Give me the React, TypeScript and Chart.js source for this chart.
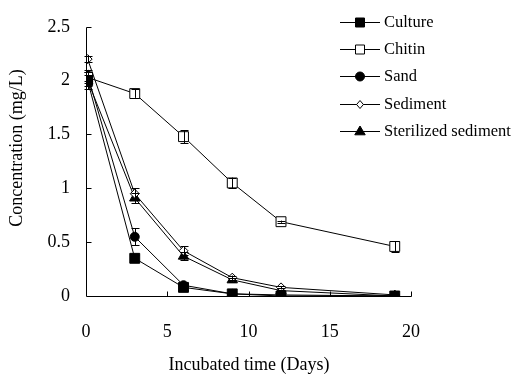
import React, { useEffect, useRef } from "react";
import { Chart, registerables } from "chart.js";

Chart.register(...registerables);

const days = [0.1, 3, 6, 9, 12, 19];
const seriesNames = ["Culture", "Chitin", "Sand", "Sediment", "Sterilized sediment"];
const culture = [2.0, 0.35, 0.08, 0.02, 0.0, 0.0];
const chitin = [2.03, 1.88, 1.48, 1.05, 0.69, 0.46];
const sand = [2.05, 0.55, 0.1, 0.02, 0.01, 0.0];
const sediment = [2.2, 0.95, 0.42, 0.17, 0.08, 0.01];
const sterilized = [2.0, 0.91, 0.37, 0.15, 0.05, 0.0];
const cultureErr = [0.05, 0.03, 0.02, 0.01, 0, 0];
const chitinErr = [0.05, 0.04, 0.06, 0.05, 0.01, 0.05];
const sandErr = [0.05, 0.08, 0.02, 0.01, 0, 0];
const sedimentErr = [0.03, 0.05, 0.04, 0.02, 0.01, 0];
const sterilizedErr = [0.08, 0.05, 0.04, 0.02, 0.01, 0];
const xTicks = [0, 5, 10, 15, 20];
const yTicks = [0, 0.5, 1, 1.5, 2, 2.5];
const xTitle = "Incubated time (Days)";
const yTitle = "Concentration (mg/L)";

const FONT = "'Liberation Serif', 'Times New Roman', serif";

const styles = [
  { pointStyle: "rect", fill: "#000", radius: 7, legend: 4.5 },
  { pointStyle: "rect", fill: "#fff", radius: 7, legend: 4.5 },
  { pointStyle: "circle", fill: "#000", radius: 4.5, legend: 4.5 },
  { pointStyle: "rectRot", fill: "#fff", radius: 4.5, legend: 4 },
  { pointStyle: "triangle", fill: "#000", radius: 6, legend: 5.5 },
];

const values = [culture, chitin, sand, sediment, sterilized];
const errors = [cultureErr, chitinErr, sandErr, sedimentErr, sterilizedErr];

function drawMarker(ctx: CanvasRenderingContext2D, style: string, r: number, x: number, y: number) {
  ctx.beginPath();
  if (style === "rect") {
    ctx.rect(x - r, y - r, 2 * r, 2 * r);
  } else if (style === "circle") {
    ctx.arc(x, y, r, 0, Math.PI * 2);
  } else if (style === "rectRot") {
    ctx.moveTo(x, y - r);
    ctx.lineTo(x + r * 0.85, y);
    ctx.lineTo(x, y + r);
    ctx.lineTo(x - r * 0.85, y);
    ctx.closePath();
  } else if (style === "triangle") {
    ctx.moveTo(x, y - r);
    ctx.lineTo(x + r * 0.95, y + r * 0.6);
    ctx.lineTo(x - r * 0.95, y + r * 0.6);
    ctx.closePath();
  }
  ctx.fill();
  ctx.stroke();
}

const errorBarPlugin = {
  id: "errorBars",
  afterDatasetsDraw(chart: any) {
    const { ctx } = chart;
    const xs = chart.scales.x;
    const ys = chart.scales.y;
    ctx.save();
    ctx.strokeStyle = "#000";
    ctx.lineWidth = 1;
    errors.forEach((errs, si) => {
      errs.forEach((e, i) => {
        if (!e) return;
        const px = Math.round(xs.getPixelForValue(days[i])) + 0.5;
        const v = values[si][i];
        const top = ys.getPixelForValue(v + e);
        const bot = ys.getPixelForValue(v - e);
        ctx.beginPath();
        ctx.moveTo(px, top);
        ctx.lineTo(px, bot);
        ctx.moveTo(px - 4, Math.round(top) + 0.5);
        ctx.lineTo(px + 4, Math.round(top) + 0.5);
        ctx.moveTo(px - 4, Math.round(bot) + 0.5);
        ctx.lineTo(px + 4, Math.round(bot) + 0.5);
        ctx.stroke();
      });
    });
    ctx.restore();
  },
};

const axesPlugin = {
  id: "axesTicks",
  afterDraw(chart: any) {
    const { ctx } = chart;
    const xs = chart.scales.x;
    const ys = chart.scales.y;
    const x0 = Math.round(xs.getPixelForValue(0)) + 0.5;
    const x1 = Math.round(xs.getPixelForValue(20)) + 0.5;
    const y0 = Math.round(ys.getPixelForValue(0)) + 0.5;
    const y1 = Math.round(ys.getPixelForValue(2.5)) + 0.5;
    ctx.save();
    ctx.strokeStyle = "#000";
    ctx.lineWidth = 1;
    ctx.beginPath();
    ctx.moveTo(x0 + 5, y1);
    ctx.lineTo(x0, y1);
    ctx.lineTo(x0, y0);
    ctx.lineTo(x1, y0);
    yTicks.forEach((t) => {
      if (t === 0 || t === 2.5) return;
      const py = Math.round(ys.getPixelForValue(t)) + 0.5;
      ctx.moveTo(x0, py);
      ctx.lineTo(x0 + 5, py);
    });
    xTicks.forEach((t) => {
      if (t === 0) return;
      const px = Math.round(xs.getPixelForValue(t)) + 0.5;
      ctx.moveTo(px, y0);
      ctx.lineTo(px, y0 - 5);
    });
    ctx.stroke();

    // axis titles
    ctx.fillStyle = "#000";
    ctx.font = "18px " + FONT;
    ctx.textAlign = "center";
    ctx.textBaseline = "middle";
    ctx.fillText(xTitle, (x0 + x1) / 2, 365);
    ctx.save();
    ctx.translate(17, 148);
    ctx.rotate(-Math.PI / 2);
    ctx.fillText(yTitle, 0, 0);
    ctx.restore();

    // legend
    const lx0 = 340;
    const lx1 = 380;
    const rowY = [22, 49, 76, 104, 131];
    ctx.font = "16.5px " + FONT;
    ctx.textBaseline = "middle";
    ctx.textAlign = "left";
    seriesNames.forEach((name, i) => {
      const y = rowY[i] + 0.5;
      ctx.beginPath();
      ctx.strokeStyle = "#000";
      ctx.lineWidth = 1;
      ctx.moveTo(lx0, y);
      ctx.lineTo(lx1, y);
      ctx.stroke();
      const s = styles[i];
      ctx.fillStyle = s.fill;
      drawMarker(ctx, s.pointStyle, s.legend, (lx0 + lx1) / 2, y);
      ctx.fillStyle = "#000";
      ctx.fillText(name, 384, rowY[i] + 1);
    });
    ctx.restore();
  },
};

export default function App() {
  const ref = useRef<HTMLCanvasElement>(null);
  useEffect(() => {
    document.body.style.margin = "0";
    const canvas = ref.current!;
    const chart = new Chart(canvas, {
      type: "line",
      data: {
        datasets: seriesNames.map((name, si) => ({
          label: name,
          data: days.map((d, i) => ({ x: d, y: values[si][i] })),
          borderColor: "#000",
          borderWidth: 1,
          pointStyle: styles[si].pointStyle as any,
          pointRadius: styles[si].radius,
          pointBackgroundColor: styles[si].fill,
          pointBorderColor: "#000",
          pointBorderWidth: 1,
          tension: 0,
          fill: false,
        })),
      },
      options: {
        animation: false,
        responsive: false,
        events: [],
        layout: { padding: { top: 20, right: 101, left: 0, bottom: 0 } },
        plugins: { legend: { display: false }, tooltip: { enabled: false } },
        scales: {
          x: {
            type: "linear",
            min: 0,
            max: 20,
            border: { display: false },
            grid: { display: false, drawTicks: false },
            ticks: {
              stepSize: 5,
              color: "#000",
              padding: 25,
              font: { family: FONT, size: 18 },
              maxRotation: 0,
            },
            afterFit(scale: any) {
              scale.height = 78;
            },
          },
          y: {
            min: 0,
            max: 2.5,
            border: { display: false },
            grid: { display: false, drawTicks: false },
            ticks: {
              stepSize: 0.5,
              color: "#000",
              padding: 16,
              font: { family: FONT, size: 18 },
              callback: (v: any) => String(v),
            },
            afterFit(scale: any) {
              scale.width = 86;
            },
          },
        },
      },
      plugins: [errorBarPlugin, axesPlugin],
    });
    return () => chart.destroy();
  }, []);
  return (
    <div style={{ position: "absolute", left: 0, top: 0, width: 512, height: 374, background: "#fff" }}>
      <canvas ref={ref} width={512} height={374} style={{ width: 512, height: 374 }} />
    </div>
  );
}
